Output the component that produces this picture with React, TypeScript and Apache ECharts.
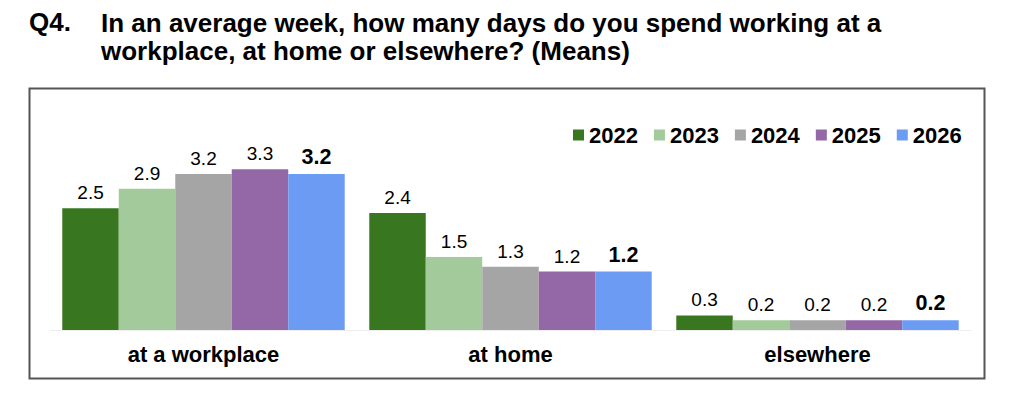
import React, { useEffect, useRef } from "react";
import * as echarts from "echarts";

const categories = ["at a workplace", "at home", "elsewhere"];
const years = ["2022", "2023", "2024", "2025", "2026"];
const v2022 = [2.5, 2.4, 0.3];
const v2023 = [2.9, 1.5, 0.2];
const v2024 = [3.2, 1.3, 0.2];
const v2025 = [3.3, 1.2, 0.2];
const v2026 = [3.2, 1.2, 0.2];
const colors = ["#38771f", "#a3ca9a", "#a5a5a5", "#9467a6", "#6c9bf4"];

const FONT = "'Liberation Sans', Arial, Helvetica, sans-serif";

export default function App() {
  const ref = useRef<HTMLDivElement>(null);
  useEffect(() => {
    if (!ref.current) return;
    const chart = echarts.init(ref.current, undefined, { renderer: "svg" });
    const seriesData = [v2022, v2023, v2024, v2025, v2026];
    chart.setOption({
      animation: false,
      backgroundColor: "#ffffff",
      textStyle: { fontFamily: FONT },
      graphic: [
        {
          type: "rect",
          shape: { x: 29.5, y: 88.5, width: 955, height: 290 },
          style: { fill: "none", stroke: "#555555", lineWidth: 2 },
          z: 0,
        },
        {
          type: "text",
          x: 29,
          y: 9,
          style: {
            text: "Q4.",
            font: `bold 26px ${FONT}`,
            fill: "#000",
            verticalAlign: "top",
          },
        },
        {
          type: "text",
          x: 101,
          y: 9,
          style: {
            text:
              "In an average week, how many days do you spend working at a\nworkplace, at home or elsewhere? (Means)",
            font: `bold 26px ${FONT}`,
            lineHeight: 28,
            fill: "#000",
            verticalAlign: "top",
          },
        },
      ],
      legend: {
        data: years,
        left: 568,
        top: 119,
        icon: "rect",
        itemWidth: 11,
        itemHeight: 11,
        itemGap: 16,
        textStyle: { fontFamily: FONT, fontWeight: "bold", fontSize: 22, color: "#000" },
      },
      grid: { left: 50, right: 53, top: 86.25, bottom: 79, containLabel: false },
      xAxis: {
        type: "category",
        data: categories,
        axisLine: { show: true, lineStyle: { color: "#eeeeee" } },
        axisTick: { show: false },
        axisLabel: {
          fontFamily: FONT,
          fontWeight: "bold",
          fontSize: 22,
          color: "#000",
          margin: 13,
        },
      },
      yAxis: {
        type: "value",
        min: 0,
        max: 5,
        show: false,
        splitLine: { show: false },
      },
      series: years.map((y, i) => ({
        name: y,
        type: "bar",
        data: seriesData[i],
        barGap: "0%",
        barCategoryGap: "8%",
        itemStyle: { color: colors[i] },
        label: {
          show: true,
          position: "top",
          distance: 6,
          fontFamily: FONT,
          fontSize: i === 4 ? 21.5 : 19,
          fontWeight: i === 4 ? "bold" : "normal",
          color: "#000",
          formatter: (p: any) => p.value.toFixed(1),
        },
      })),
    });
    return () => chart.dispose();
  }, []);
  return (
    <div
      ref={ref}
      style={{ position: "fixed", left: 0, top: 0, width: 1024, height: 409 }}
    />
  );
}
